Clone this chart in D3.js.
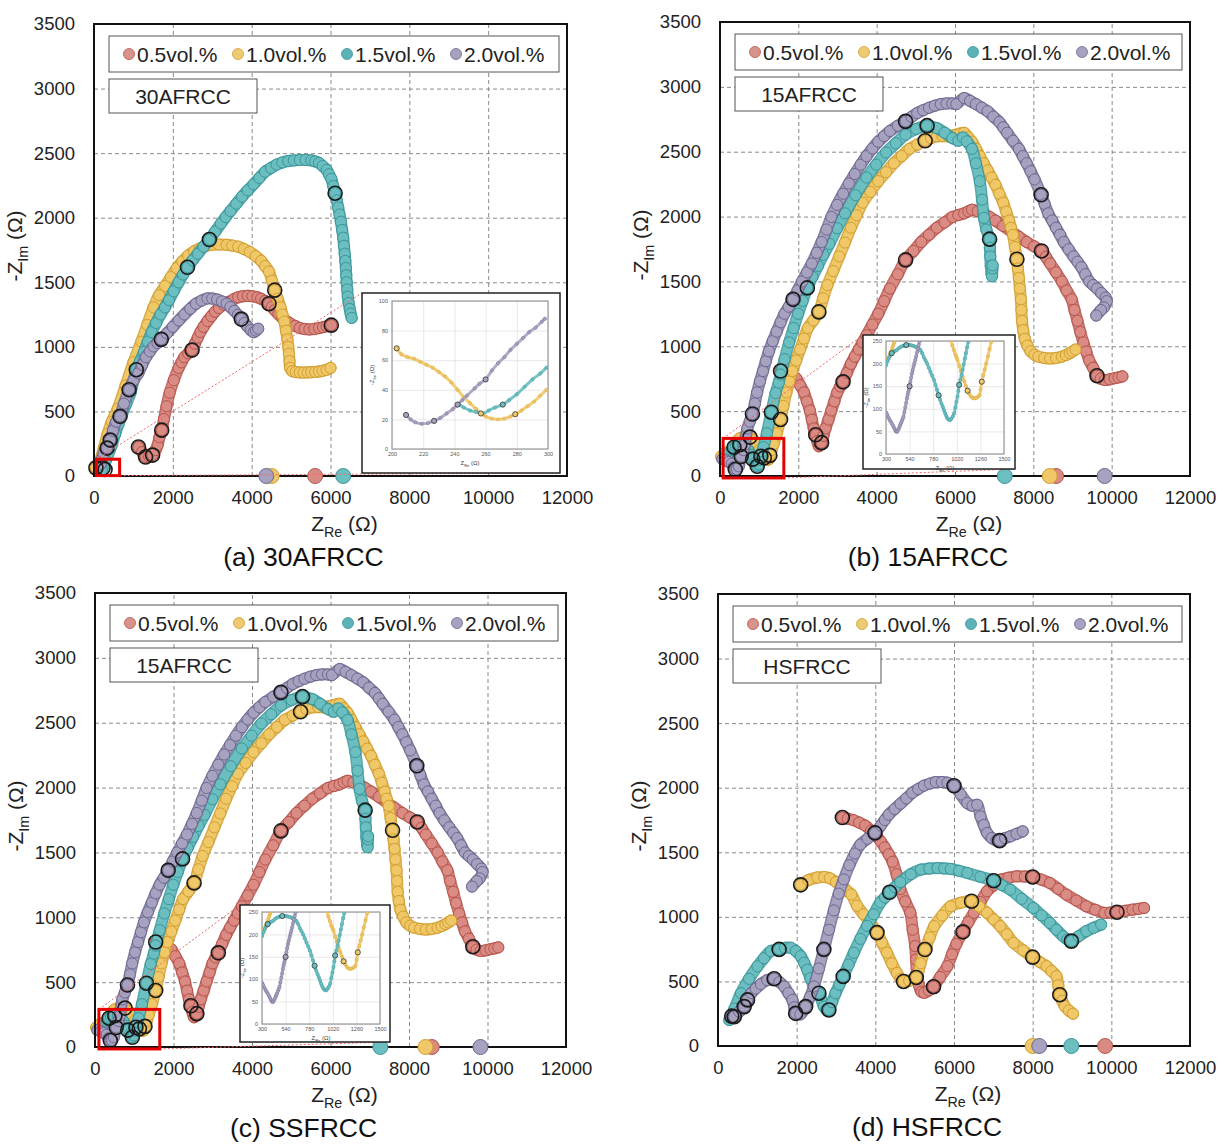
<!DOCTYPE html>
<html>
<head>
<meta charset="utf-8">
<script src="https://d3js.org/d3.v7.min.js"></script>
<style>
  body { margin:0; background:#fff; }
  svg { font-family: Arial, "Liberation Sans", sans-serif; }
  .grid line { stroke:#8a8a8a; stroke-dasharray:4,3; stroke-width:1; }
  .grid .domain { display:none; }
  .lab .domain { display:none; }
  .lab text { font-size:18.5px; fill:#222; font-family: Arial, "Liberation Sans", sans-serif; }
  .igrid line { stroke:#d8d8d8; stroke-width:0.6; }
  .igrid .domain { display:none; }
  .ilab .domain { display:none; }
  .ilab text { font-size:5.5px; fill:#555; font-family: Arial, "Liberation Sans", sans-serif; }
</style>
</head>
<body>
<script>
// legend names + ticks
const seriesNames = ["0.5vol.%", "1.0vol.%", "1.5vol.%", "2.0vol.%"];
const xTicks = [0, 2000, 4000, 6000, 8000, 10000, 12000];
const yTicks = [0, 500, 1000, 1500, 2000, 2500, 3000, 3500];

// ---- (a) 30AFRCC  [Z_Re, -Z_Im]
const a_red = [[1128,224],[1220,185],[1308,147],[1400,150],[1487,162],[1564,201],[1615,240],[1660,300],[1718,355],[1775,440],[1840,540],[1920,645],[2025,742],[2146,837],[2220,880],[2293,920],[2390,950],[2488,975],[2560,1025],[2634,1072],[2700,1115],[2780,1155],[2880,1200],[2976,1237],[3070,1272],[3171,1301],[3290,1327],[3415,1348],[3540,1368],[3658,1384],[3780,1392],[3902,1395],[4020,1392],[4146,1384],[4240,1372],[4341,1356],[4439,1334],[4510,1310],[4585,1284],[4680,1253],[4780,1224],[4880,1200],[4976,1182],[5100,1162],[5220,1146],[5340,1138],[5463,1135],[5590,1138],[5707,1146],[5810,1152],[5902,1160],[6020,1168]];
const a_yel = [[49,63],[150,120],[250,220],[350,330],[450,420],[600,520],[800,700],[1000,880],[1200,1040],[1350,1170],[1512,1306],[1650,1400],[1805,1472],[1950,1540],[2098,1610],[2240,1662],[2390,1707],[2540,1740],[2683,1762],[2830,1780],[2976,1790],[3170,1792],[3366,1790],[3510,1784],[3658,1776],[3800,1758],[3951,1735],[4100,1703],[4244,1665],[4340,1625],[4439,1583],[4515,1512],[4585,1439],[4660,1372],[4732,1306],[4780,1250],[4829,1196],[4870,1125],[4907,1058],[4930,1000],[4946,947],[4960,890],[4976,837],[5030,812],[5120,805],[5220,802],[5317,801],[5420,802],[5510,804],[5610,806],[5707,809],[5800,815],[5900,822],[6000,837]];
const a_teal = [[200,40],[300,120],[439,229],[537,326],[620,400],[712,478],[820,560],[927,644],[1000,735],[1073,823],[1170,890],[1268,961],[1365,1040],[1463,1113],[1575,1185],[1688,1251],[1800,1305],[1902,1362],[2020,1430],[2146,1500],[2260,1560],[2371,1616],[2500,1670],[2634,1721],[2780,1776],[2927,1831],[3075,1893],[3220,1955],[3340,2005],[3463,2052],[3610,2108],[3756,2163],[3900,2212],[4049,2259],[4195,2308],[4341,2356],[4490,2385],[4634,2411],[4780,2428],[4927,2439],[5070,2444],[5220,2447],[5370,2447],[5512,2444],[5610,2436],[5707,2425],[5800,2400],[5902,2370],[5960,2336],[6020,2301],[6070,2245],[6117,2190],[6160,2135],[6195,2080],[6230,2025],[6263,1969],[6295,1905],[6322,1845],[6342,1783],[6361,1721],[6376,1665],[6390,1610],[6400,1555],[6410,1500],[6425,1445],[6439,1389],[6460,1340],[6488,1293],[6510,1258],[6537,1224]];
const a_pur = [[166,91],[244,174],[333,216],[410,278],[480,350],[560,420],[660,462],[760,560],[890,668],[1000,740],[1122,795],[1220,860],[1317,920],[1420,965],[1512,1003],[1610,1030],[1707,1058],[1850,1105],[2000,1155],[2150,1205],[2293,1251],[2440,1295],[2585,1334],[2730,1358],[2878,1375],[3000,1374],[3122,1367],[3245,1352],[3366,1334],[3460,1308],[3561,1279],[3650,1248],[3737,1215],[3820,1185],[3902,1155],[3975,1130],[4049,1113],[4110,1125],[4166,1141]];
const a_marks = [
  [[1128,224],[1308,147],[1487,162],[1718,355],[2488,975],[4439,1334],[6020,1168]],
  [[49,63],[4585,1439]],
  [[1073,823],[2371,1616],[2927,1831],[6117,2190]],
  [[230,62],[280,50],[333,216],[410,278],[660,462],[890,668],[1707,1058],[3737,1215]]
];
const a_axis = [5610, 4507, 6322, 4371];

// inset of (a)
const ia_yel = [[203,68],[206,64],[210,62],[214,61],[218,59],[222,57],[226,55],[230,52],[234,49],[238,45],[242,40],[246,35],[250,31],[254,27],[257,24],[260,22],[264,20.5],[268,20],[272,20.5],[276,22],[279,23.5],[283,26],[287,29],[291,32],[295,36],[299,40]];
const ia_teal = [[243,30],[246,28],[250,26],[254,25],[258,24],[262,26],[266,28],[271,30],[275,33],[280,37],[285,42],[290,47],[295,51],[299,55]];
const ia_pur = [[209,23],[212,20],[215,18],[219,17],[223,17.5],[227,19],[231,21],[235,24],[239,27],[242,30],[245,33],[248,36],[253,41],[256,44],[260,47],[264,53],[268,58],[272,62],[276,67],[280,71],[284,75],[288,79],[292,82],[296,86],[298,88]];
const ia_marks = [[], [[203,68],[257,24],[279,23.5]], [[271,30]], [[209,23],[227,19],[242,30],[260,47]]];

// ---- (b) 15AFRCC and (c) SSFRCC (same curves in the figure)
const bc_red = [[1546,809],[1650,790],[1750,775],[1850,765],[1945,754],[2045,700],[2145,644],[2220,575],[2294,505],[2345,435],[2394,367],[2444,318],[2480,270],[2524,229],[2560,240],[2594,257],[2640,310],[2694,367],[2770,435],[2843,505],[2920,575],[2993,644],[3070,690],[3142,726],[3240,795],[3342,864],[3440,920],[3541,975],[3640,1030],[3741,1085],[3890,1168],[4040,1251],[4190,1348],[4339,1445],[4540,1555],[4738,1666],[4940,1735],[5137,1804],[5336,1860],[5536,1914],[5735,1955],[5935,1997],[6085,2012],[6234,2025],[6340,2040],[6434,2052],[6580,2040],[6733,2025],[6880,1997],[7032,1969],[7230,1928],[7431,1886],[7630,1845],[7830,1804],[8020,1770],[8209,1735],[8320,1690],[8429,1638],[8580,1570],[8728,1500],[8850,1430],[8978,1362],[9050,1280],[9127,1196],[9200,1110],[9277,1030],[9350,960],[9426,892],[9526,835],[9626,773],[9720,750],[9825,740],[9950,745],[10075,754],[10175,760],[10274,768]];
const bc_yel = [[30,150],[120,175],[200,185],[300,200],[393,252],[500,290],[650,305],[765,300],[860,275],[941,252],[1027,208],[1078,171],[1130,140],[1198,123],[1249,130],[1273,159],[1318,200],[1370,248],[1450,330],[1546,436],[1620,540],[1696,644],[1770,730],[1845,809],[1945,890],[2045,975],[2145,1060],[2244,1141],[2384,1200],[2524,1265],[2634,1370],[2743,1472],[2890,1580],[3042,1693],[3190,1800],[3342,1914],[3490,2010],[3641,2107],[3840,2190],[4040,2273],[4240,2342],[4439,2411],[4640,2467],[4838,2522],[5037,2555],[5237,2584],[5386,2605],[5536,2618],[5685,2620],[5835,2618],[5935,2625],[6035,2632],[6134,2640],[6234,2646],[6334,2612],[6434,2577],[6534,2522],[6634,2466],[6733,2411],[6833,2356],[6933,2300],[7032,2245],[7132,2176],[7232,2107],[7307,2038],[7382,1969],[7430,1914],[7481,1859],[7531,1765],[7581,1671],[7606,1600],[7631,1527],[7656,1445],[7681,1362],[7696,1280],[7711,1196],[7740,1125],[7781,1058],[7850,1005],[7930,961],[8030,935],[8129,920],[8280,910],[8429,906],[8580,910],[8728,920],[8830,932],[8928,947],[9000,960],[9077,975]];
const bc_teal = [[150,130],[230,180],[307,200],[358,222],[410,229],[460,236],[506,241],[581,239],[650,229],[718,200],[787,163],[835,130],[890,97],[951,75],[993,89],[1027,126],[1044,152],[1080,190],[1112,222],[1197,330],[1310,492],[1420,640],[1500,720],[1546,782],[1650,900],[1766,1030],[1880,1140],[1995,1251],[2110,1350],[2230,1450],[2360,1535],[2500,1620],[2640,1705],[2793,1790],[2990,1910],[3192,2025],[3460,2165],[3741,2301],[3990,2400],[4239,2494],[4490,2565],[4738,2632],[5010,2675],[5287,2701],[5536,2682],[5736,2646],[5935,2605],[6085,2585],[6200,2610],[6300,2580],[6434,2522],[6534,2411],[6634,2273],[6690,2130],[6740,1990],[6800,1900],[6883,1826],[6890,1760],[6900,1693],[6913,1620],[6933,1560],[6945,1540],[6955,1600],[6960,1624]];
const bc_pur = [[60,130],[150,120],[220,108],[300,95],[345,68],[390,50],[430,52],[479,75],[540,150],[598,200],[633,241],[698,367],[760,420],[828,478],[890,560],[948,644],[1020,730],[1097,809],[1170,885],[1247,961],[1346,1040],[1446,1113],[1546,1185],[1646,1251],[1755,1305],[1865,1362],[1980,1430],[2095,1500],[2220,1570],[2344,1638],[2470,1720],[2594,1804],[2720,1900],[2843,1997],[2990,2090],[3142,2176],[3290,2255],[3441,2328],[3590,2400],[3741,2466],[3890,2525],[4040,2577],[4190,2620],[4339,2660],[4540,2700],[4738,2734],[4890,2768],[5037,2798],[5187,2820],[5337,2839],[5486,2855],[5636,2867],[5785,2872],[5935,2872],[6035,2867],[6234,2914],[6384,2892],[6534,2867],[6683,2840],[6833,2812],[6980,2770],[7132,2729],[7232,2688],[7332,2646],[7480,2585],[7631,2522],[7730,2466],[7830,2411],[7930,2350],[8030,2287],[8199,2168],[8290,2096],[8379,2025],[8480,1970],[8578,1914],[8680,1860],[8778,1804],[8900,1748],[9027,1693],[9127,1652],[9227,1610],[9326,1555],[9426,1500],[9526,1472],[9626,1445],[9735,1410],[9845,1375],[9875,1348],[9800,1300],[9726,1279],[9606,1237]];
const bc_marks = [
  [[1546,809],[2444,318],[2594,257],[3142,726],[4738,1666],[8209,1735],[9626,773]],
  [[765,300],[1130,140],[1273,159],[1546,436],[2524,1265],[5237,2584],[7581,1671]],
  [[358,222],[506,241],[835,130],[951,75],[1044,152],[1310,492],[2230,1450],[5287,2701],[6883,1826]],
  [[390,50],[540,150],[828,478],[1865,1362],[4738,2734],[8199,2168]]
];
const bc_axis = [8580, 8420, 7270, 9820];

// inset of (b) and (c)
const ib_yel = [[300,200],[312,206],[325,213],[338,220],[350,226],[362,233],[373,240],[383,246],[393,252],[410,262],[430,272],[500,290],[650,300],[800,295],[900,275],[940,262],[959,252],[975,240],[990,230],[1005,220],[1017,214],[1027,208],[1045,195],[1062,183],[1079,171],[1096,161],[1113,150],[1130,140],[1147,133],[1164,127],[1182,124],[1199,123],[1216,124],[1233,126],[1250,130],[1262,143],[1274,160],[1289,174],[1304,187],[1319,200],[1336,216],[1353,232],[1370,248],[1385,262]];
const ib_teal = [[300,196],[315,205],[330,212],[345,218],[358,223],[375,226],[392,228],[410,230],[430,234],[450,237],[470,239],[490,240],[506,241],[525,241],[545,241],[563,240],[581,239],[600,237],[617,235],[634,233],[650,230],[668,223],[685,214],[702,207],[718,200],[735,191],[752,182],[770,173],[787,164],[803,153],[819,142],[835,130],[850,120],[865,111],[878,104],[890,97],[902,90],[913,84],[924,79],[938,76],[952,75],[965,78],[979,83],[993,90],[1005,103],[1016,115],[1027,127],[1036,140],[1044,153],[1056,164],[1068,175],[1079,186],[1090,198],[1102,211],[1113,223],[1125,236],[1137,248],[1148,260]];
const ib_pur = [[300,92],[312,87],[324,81],[336,76],[347,72],[358,68],[370,63],[382,58],[393,53],[402,50],[410,49],[418,51],[427,55],[436,59],[444,64],[452,68],[461,73],[470,78],[478,83],[487,93],[496,103],[505,113],[513,123],[520,131],[527,138],[534,144],[540,150],[548,160],[556,169],[564,178],[572,186],[581,194],[589,201],[598,208],[607,216],[616,225],[625,233],[633,241],[641,249],[650,257]];
const ib_marks = [[], [[1130,140],[1274,160]], [[358,223],[506,241],[835,130],[1044,153]], [[540,150]]];

// ---- (d) HSFRCC
const d_red = [[3162,1769],[3300,1760],[3441,1749],[3590,1730],[3741,1707],[3890,1668],[4040,1623],[4140,1582],[4239,1538],[4340,1485],[4439,1426],[4540,1330],[4633,1216],[4760,1120],[4887,1034],[4950,900],[5013,774],[5035,670],[5055,565],[5110,470],[5170,420],[5244,412],[5360,430],[5480,459],[5650,535],[5832,618],[5950,710],[6060,790],[6227,884],[6366,960],[6505,1031],[6673,1115],[6841,1198],[7010,1245],[7177,1288],[7387,1303],[7597,1314],[7800,1312],[8000,1309],[8220,1288],[8437,1262],[8650,1217],[8858,1172],[9110,1127],[9362,1082],[9590,1055],[9824,1031],[9980,1033],[10143,1036],[10340,1046],[10538,1056],[10690,1062],[10832,1069]];
const d_yel = [[2102,1248],[2300,1285],[2524,1305],[2700,1308],[2843,1299],[3000,1270],[3142,1243],[3280,1200],[3391,1173],[3536,1086],[3700,1020],[3874,956],[4043,878],[4170,800],[4296,722],[4420,640],[4549,565],[4640,520],[4718,500],[4860,505],[5040,531],[5150,640],[5261,747],[5380,840],[5496,928],[5700,1010],[5916,1082],[6180,1110],[6446,1121],[6640,1080],[6841,1031],[7010,980],[7177,928],[7345,865],[7513,799],[7760,740],[8000,688],[8180,650],[8353,618],[8480,580],[8605,541],[8650,470],[8689,397],[8750,350],[8815,309],[8920,275],[9026,250]];
const d_teal = [[287,201],[420,290],[583,409],[790,520],[1005,617],[1170,680],[1342,735],[1553,748],[1700,760],[1849,761],[1980,735],[2102,696],[2190,645],[2270,591],[2350,525],[2439,461],[2566,409],[2692,305],[2760,280],[2819,279],[2900,340],[2988,409],[3085,475],[3182,539],[3320,630],[3452,722],[3620,830],[3790,930],[3960,1020],[4127,1112],[4245,1150],[4363,1190],[4500,1230],[4633,1268],[4900,1330],[5160,1366],[5370,1374],[5580,1378],[5750,1375],[5917,1371],[6130,1356],[6337,1340],[6670,1310],[7009,1280],[7220,1246],[7429,1211],[7720,1140],[8017,1069],[8230,1011],[8437,953],[8605,900],[8774,850],[8880,825],[8984,812],[9170,850],[9362,889],[9550,915],[9740,940]];
const d_pur = [[349,231],[414,227],[540,265],[667,305],[751,357],[850,410],[960,445],[1089,480],[1250,510],[1427,521],[1560,495],[1680,461],[1790,410],[1891,357],[1940,300],[1975,253],[2095,245],[2228,305],[2340,380],[2439,461],[2566,600],[2692,748],[2820,900],[2946,1050],[3070,1180],[3199,1290],[3340,1400],[3480,1490],[3620,1560],[3800,1605],[3990,1650],[4140,1707],[4240,1750],[4339,1791],[4490,1835],[4638,1876],[4788,1918],[4938,1960],[5090,1990],[5237,2016],[5390,2032],[5536,2044],[5690,2044],[5835,2039],[6000,2015],[6170,1948],[6337,1881],[6470,1860],[6589,1868],[6673,1778],[6757,1712],[6841,1649],[6960,1610],[7080,1592],[7160,1590],[7300,1610],[7429,1623],[7590,1643],[7748,1662]];
const d_marks = [
  [[3162,1769],[5480,459],[6227,884],[8000,1309],[10143,1036]],
  [[2102,1248],[4043,878],[4718,500],[5040,531],[5261,747],[6446,1121],[8000,688],[8689,397]],
  [[1553,748],[2566,409],[2819,279],[3182,539],[4363,1190],[7009,1280],[8984,812]],
  [[349,231],[414,227],[667,305],[751,357],[1427,521],[1975,253],[2228,305],[2692,748],[3990,1650],[6000,2015],[7160,1590]]
];
const d_axis = [9841, 7999, 8984, 8168];

// colours (red, yellow, teal, purple)
const fillC = ["#d98b83", "#f0c868", "#6cbfc1", "#a7a2c0"];
const edgeC = ["#b5544b", "#d19f30", "#3a969a", "#6d6890"];
const legC = ["#d9938d", "#eecb72", "#5cb3b7", "#a6a2bf"];

const svg = d3.select("body").append("svg").attr("width", 1225).attr("height", 1146);
const plain = d3.format("d");

const panels = [
  {left:94, right:567, top:24, bottom:476, tag:"30AFRCC", caption:"(a) 30AFRCC",
   series:[a_red, a_yel, a_teal, a_pur], marks:a_marks, axis:a_axis,
   inset:{box:[362,293,560,473], plot:[392,301,548,449], xd:[200,300], yd:[0,100],
          xt:[200,220,240,260,280,300], yt:[0,20,40,60,80,100],
          series:[[], ia_yel, ia_teal, ia_pur], marks:ia_marks, zoom:[60,650,3,130]}},
  {left:720, right:1190, top:22, bottom:476, tag:"15AFRCC", caption:"(b) 15AFRCC",
   series:[bc_red, bc_yel, bc_teal, bc_pur], marks:bc_marks, axis:bc_axis,
   inset:{box:[863,335,1015,469], plot:[886,341,1004,454], xd:[300,1500], yd:[0,250],
          xt:[300,540,780,1020,1260,1500], yt:[0,50,100,150,200,250],
          series:[[], ib_yel, ib_teal, ib_pur], marks:ib_marks, zoom:[80,1630,-15,290]}},
  {left:95, right:566, top:593, bottom:1047, tag:"15AFRCC", caption:"(c) SSFRCC",
   series:[bc_red, bc_yel, bc_teal, bc_pur], marks:bc_marks, axis:bc_axis,
   inset:{box:[240,905,390,1042], plot:[262,912,380,1024], xd:[300,1500], yd:[0,250],
          xt:[300,540,780,1020,1260,1500], yt:[0,50,100,150,200,250],
          series:[[], ib_yel, ib_teal, ib_pur], marks:ib_marks, zoom:[100,1650,-15,290]}},
  {left:718, right:1190, top:594, bottom:1046, tag:"HSFRCC", caption:"(d) HSFRCC",
   series:[d_red, d_yel, d_teal, d_pur], marks:d_marks, axis:d_axis, inset:null}
];

function subText(t, main, sub, tail, size) {
  t.append("tspan").text(main);
  t.append("tspan").attr("font-size", size * 0.68).attr("dy", size * 0.3).text(sub);
  t.append("tspan").attr("dy", -size * 0.3).text(tail);
}

function drawInset(g, ins, k) {
  const [bx0, by0, bx1, by1] = ins.box;
  g.append("rect").attr("x", bx0).attr("y", by0).attr("width", bx1 - bx0).attr("height", by1 - by0)
    .attr("fill", "#fff").attr("stroke", "#222").attr("stroke-width", 1.5);
  const [px0, py0, px1, py1] = ins.plot;
  const xi = d3.scaleLinear().domain(ins.xd).range([px0, px1]);
  const yi = d3.scaleLinear().domain(ins.yd).range([py1, py0]);

  g.append("g").attr("class", "igrid").attr("transform", `translate(0,${py1})`)
    .call(d3.axisBottom(xi).tickValues(ins.xt).tickSize(-(py1 - py0)).tickFormat(""));
  g.append("g").attr("class", "igrid").attr("transform", `translate(${px0},0)`)
    .call(d3.axisLeft(yi).tickValues(ins.yt).tickSize(-(px1 - px0)).tickFormat(""));
  g.append("g").attr("class", "ilab").attr("transform", `translate(0,${py1})`)
    .call(d3.axisBottom(xi).tickValues(ins.xt).tickSize(0).tickPadding(3).tickFormat(plain));
  g.append("g").attr("class", "ilab").attr("transform", `translate(${px0},0)`)
    .call(d3.axisLeft(yi).tickValues(ins.yt).tickSize(0).tickPadding(4).tickFormat(plain));
  g.append("rect").attr("x", px0).attr("y", py0).attr("width", px1 - px0).attr("height", py1 - py0)
    .attr("fill", "none").attr("stroke", "#999").attr("stroke-width", 1.2);

  const xt = g.append("text").attr("x", (px0 + px1) / 2).attr("y", py1 + 16)
    .attr("text-anchor", "middle").attr("font-size", 6).attr("fill", "#444");
  subText(xt, "Z", "Re", " (Ω)", 6);
  const ycx = px0 - 18, ycy = (py0 + py1) / 2;
  const yt = g.append("text").attr("x", ycx).attr("y", ycy).attr("transform", `rotate(-90,${ycx},${ycy})`)
    .attr("text-anchor", "middle").attr("font-size", 6).attr("fill", "#444");
  subText(yt, "-Z", "Im", " (Ω)", 6);

  g.append("clipPath").attr("id", "clip" + k).append("rect")
    .attr("x", px0).attr("y", py0).attr("width", px1 - px0).attr("height", py1 - py0);
  const cg = g.append("g").attr("clip-path", `url(#clip${k})`);
  const line = d3.line().x(d => xi(d[0])).y(d => yi(d[1])).curve(d3.curveCatmullRom.alpha(0.5));
  ins.series.forEach((pts, i) => {
    if (!pts.length) return;
    cg.append("path").attr("d", line(pts)).attr("fill", "none").attr("stroke", fillC[i])
      .attr("stroke-width", 3).attr("stroke-linecap", "round").attr("opacity", 0.9);
    cg.selectAll(null).data(pts).join("circle")
      .attr("cx", d => xi(d[0])).attr("cy", d => yi(d[1])).attr("r", 1.7)
      .attr("fill", fillC[i]).attr("stroke", edgeC[i]).attr("stroke-width", 0.4);
  });
  ins.marks.forEach((pts, i) => {
    cg.selectAll(null).data(pts).join("circle")
      .attr("cx", d => xi(d[0])).attr("cy", d => yi(d[1])).attr("r", 2.6)
      .attr("fill", fillC[i]).attr("stroke", "#333").attr("stroke-width", 0.8);
  });
}

function drawPanel(p, k) {
  const g = svg.append("g");
  const x = d3.scaleLinear().domain([0, 12000]).range([p.left, p.right]);
  const y = d3.scaleLinear().domain([0, 3500]).range([p.bottom, p.top]);

  // dashed grid
  g.append("g").attr("class", "grid").attr("transform", `translate(0,${p.bottom})`)
    .call(d3.axisBottom(x).tickValues(xTicks).tickSize(-(p.bottom - p.top)).tickFormat(""));
  g.append("g").attr("class", "grid").attr("transform", `translate(${p.left},0)`)
    .call(d3.axisLeft(y).tickValues(yTicks).tickSize(-(p.right - p.left)).tickFormat(""));

  // tick labels
  g.append("g").attr("class", "lab").attr("transform", `translate(0,${p.bottom})`)
    .call(d3.axisBottom(x).tickValues(xTicks).tickSize(0).tickPadding(15).tickFormat(plain));
  g.append("g").attr("class", "lab").attr("transform", `translate(${p.left},0)`)
    .call(d3.axisLeft(y).tickValues(yTicks).tickSize(0).tickPadding(19).tickFormat(plain));

  // legend box
  const lx = p.left + 15, ly = p.top + 12;
  g.append("rect").attr("x", lx).attr("y", ly).attr("width", p.right - p.left - 23).attr("height", 36)
    .attr("fill", "#fff").attr("stroke", "#555").attr("stroke-width", 1);
  seriesNames.forEach((n, i) => {
    const cx = lx + 20 + i * 109;
    g.append("circle").attr("cx", cx).attr("cy", ly + 18).attr("r", 5.5)
      .attr("fill", legC[i]).attr("stroke", edgeC[i]).attr("stroke-width", 0.8);
    g.append("text").attr("x", cx + 8).attr("y", ly + 25.5).attr("font-size", 21).attr("fill", "#222").text(n);
  });

  // material tag
  g.append("rect").attr("x", lx).attr("y", p.top + 55).attr("width", 148).attr("height", 34)
    .attr("fill", "#fff").attr("stroke", "#555").attr("stroke-width", 1);
  g.append("text").attr("x", lx + 74).attr("y", p.top + 79.5).attr("text-anchor", "middle")
    .attr("font-size", 21).attr("fill", "#222").text(p.tag);

  // series: dense markers drawn as a band with circles on top
  const line = d3.line().x(d => x(d[0])).y(d => y(d[1])).curve(d3.curveCatmullRom.alpha(0.5));
  p.series.forEach((pts, i) => {
    const s = g.append("g");
    s.append("path").attr("d", line(pts)).attr("fill", "none").attr("stroke", edgeC[i])
      .attr("stroke-width", 12).attr("stroke-linecap", "round").attr("stroke-linejoin", "round").attr("opacity", 0.85);
    s.append("path").attr("d", line(pts)).attr("fill", "none").attr("stroke", fillC[i])
      .attr("stroke-width", 9).attr("stroke-linecap", "round").attr("stroke-linejoin", "round");
    s.selectAll("circle").data(pts).join("circle")
      .attr("cx", d => x(d[0])).attr("cy", d => y(d[1])).attr("r", 5.6)
      .attr("fill", fillC[i]).attr("fill-opacity", 0.9).attr("stroke", edgeC[i]).attr("stroke-width", 1);
  });

  // highlighted frequencies
  p.marks.forEach(pts => {
    g.selectAll(null).data(pts).join("circle")
      .attr("cx", d => x(d[0])).attr("cy", d => y(d[1])).attr("r", 7)
      .attr("fill", "none").attr("stroke", "#1a1a1a").attr("stroke-width", 1.6);
  });

  // frame
  g.append("rect").attr("x", p.left).attr("y", p.top).attr("width", p.right - p.left).attr("height", p.bottom - p.top)
    .attr("fill", "none").attr("stroke", "#111").attr("stroke-width", 2);

  // resistance points on the real axis
  p.axis.forEach((v, i) => {
    g.append("circle").attr("cx", x(v)).attr("cy", y(0)).attr("r", 7.5)
      .attr("fill", fillC[i]).attr("stroke", edgeC[i]).attr("stroke-width", 1);
  });

  // zoom box + inset
  if (p.inset) {
    const ins = p.inset;
    const [zx0, zx1, zy0, zy1] = ins.zoom;
    const [bx0, by0, bx1, by1] = ins.box;
    g.append("line").attr("x1", x(zx0)).attr("y1", y(zy1)).attr("x2", bx0).attr("y2", by0)
      .attr("stroke", "#f06a6a").attr("stroke-width", 1).attr("stroke-dasharray", "2,2");
    g.append("line").attr("x1", x(zx1)).attr("y1", y(zy0)).attr("x2", bx1).attr("y2", by1)
      .attr("stroke", "#f06a6a").attr("stroke-width", 1).attr("stroke-dasharray", "2,2");
    g.append("rect").attr("x", x(zx0)).attr("y", y(zy1)).attr("width", x(zx1) - x(zx0)).attr("height", y(zy0) - y(zy1))
      .attr("fill", "none").attr("stroke", "#e60000").attr("stroke-width", 3);
    drawInset(g, ins, k);
  }

  // axis titles
  const xt = g.append("text").attr("x", (p.left + p.right) / 2 + 14).attr("y", p.bottom + 55)
    .attr("text-anchor", "middle").attr("font-size", 21).attr("fill", "#222");
  subText(xt, "Z", "Re", " (Ω)", 21);
  const ycx = p.left - 72, ycy = (p.top + p.bottom) / 2 - 4;
  const yt = g.append("text").attr("x", ycx).attr("y", ycy).attr("transform", `rotate(-90,${ycx},${ycy})`)
    .attr("text-anchor", "middle").attr("font-size", 21).attr("fill", "#222");
  subText(yt, "-Z", "Im", " (Ω)", 21);

  // caption
  g.append("text").attr("x", (p.left + p.right) / 2 - 27).attr("y", p.bottom + 90)
    .attr("text-anchor", "middle").attr("font-size", 26.5).attr("fill", "#111").text(p.caption);
}

panels.forEach((p, k) => drawPanel(p, k));
</script>
</body>
</html>
